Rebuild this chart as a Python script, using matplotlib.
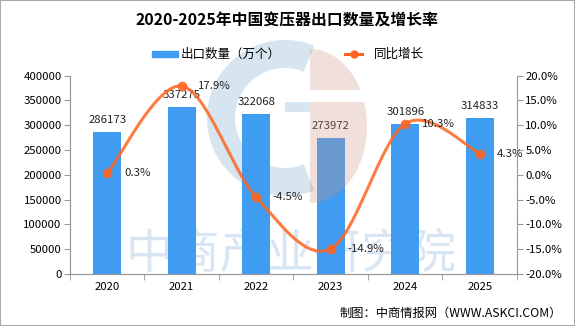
import numpy as np
import matplotlib
matplotlib.use('Agg')
import matplotlib.pyplot as plt
from matplotlib.patches import Polygon, Rectangle
from matplotlib.lines import Line2D

plt.rcParams['font.family'] = ['Noto Sans CJK SC', 'DejaVu Sans']

years = ['2020', '2021', '2022', '2023', '2024', '2025']
export_qty = [286173, 337275, 322068, 273972, 301896, 314833]
growth = [0.3, 17.9, -4.5, -14.9, 10.3, 4.3]

BAR_COLOR = '#3F9CF0'
LINE_COLOR = '#FF6520'
AXIS_GRAY = '#999999'
W, H = 575, 326
FS = 8.2


def px(x, y):
    # pixel position from top-left -> figure fraction
    return x / W, 1 - y / H


def arc_points(cx, cy, rx, ry, t0, t1, rin=None):
    # outline of an (elliptic) arc or a ring, pixel coords in, figure fractions out
    t = np.radians(np.linspace(t0, t1, 120))
    pts = [(cx + rx * np.cos(a), cy - ry * np.sin(a)) for a in t]
    if rin is not None:
        pts += [(cx + rin * np.cos(a), cy - rin * np.sin(a)) for a in t[::-1]]
    return [px(x, y) for x, y in pts]


def smooth_curve(x, y, n=40):
    # excel-like smoothing: bezier segments with catmull-rom control points
    x = np.asarray(x, float)
    y = np.asarray(y, float)
    ex = np.concatenate([[x[0]], x, [x[-1]]])
    ey = np.concatenate([[y[0]], y, [y[-1]]])
    xs, ys = [], []
    t = np.linspace(0, 1, n)[:, None]
    for i in range(1, len(x)):
        p0 = np.array([ex[i], ey[i]])
        p3 = np.array([ex[i + 1], ey[i + 1]])
        c1 = p0 + (np.array([ex[i + 1], ey[i + 1]]) - np.array([ex[i - 1], ey[i - 1]])) / 6
        c2 = p3 - (np.array([ex[i + 2], ey[i + 2]]) - np.array([ex[i], ey[i]])) / 6
        pts = (1 - t) ** 3 * p0 + 3 * (1 - t) ** 2 * t * c1 + 3 * (1 - t) * t ** 2 * c2 + t ** 3 * p3
        xs.extend(pts[:, 0])
        ys.extend(pts[:, 1])
    return np.array(xs), np.array(ys)


fig = plt.figure(figsize=(5.75, 3.26), dpi=100)

# watermark behind the plot
fig.text(0.505, 1 - 255 / H, '中商产业研究院', fontsize=34, color='#D8E6F3',
         ha='center', va='center', zorder=-2)
fig.patches.append(Polygon(arc_points(285, 118, 78, 78, 68, 292, rin=50),
                           closed=True, transform=fig.transFigure,
                           color='#D6E5EF', lw=0, zorder=-2))
fig.patches.append(Rectangle(px(285, 112), 25 / W, 10 / H, transform=fig.transFigure,
                             color='#D6E5EF', lw=0, zorder=-2))

ax = fig.add_axes([0.1217, 0.1595, 0.7774, 0.6083])
ax.patch.set_alpha(0)
ax2 = ax.twinx()

x = np.arange(len(years))
ax.bar(x, export_qty, width=0.37, color=BAR_COLOR, zorder=2)
for xi, v in zip(x, export_qty):
    ax.annotate(str(v), (xi, v), xytext=(0, 5), textcoords='offset points',
                ha='center', va='bottom', fontsize=FS, color='#222222', zorder=5)

ax.set_xlim(-0.5, len(years) - 0.5)
ax.set_ylim(0, 400000)
ax.set_yticks(np.arange(0, 400001, 50000))
ax.set_xticks(x)
ax.set_xticklabels(years)
ax.set_xticks(np.arange(-0.5, len(years), 1), minor=True)
ax.tick_params(axis='x', which='major', length=0, labelsize=FS, pad=6)
ax.tick_params(axis='x', which='minor', length=4, color=AXIS_GRAY)
ax.tick_params(axis='y', length=4, color=AXIS_GRAY, labelsize=FS, pad=2)

ax2.set_ylim(-20, 20)
ax2.set_yticks(np.arange(-20, 20.1, 5))
ax2.set_yticklabels(['%.1f%%' % v for v in np.arange(-20, 20.1, 5)])
ax2.tick_params(axis='y', length=4, color=AXIS_GRAY, labelsize=FS, pad=2)

for a in (ax, ax2):
    a.spines['top'].set_visible(False)
    for s in ('left', 'right', 'bottom'):
        a.spines[s].set_color(AXIS_GRAY)
ax.spines['right'].set_visible(False)

xs, ys = smooth_curve(x, growth)
ax2.plot(xs, ys, color=LINE_COLOR, lw=2.2, alpha=0.85, zorder=3)
ax2.plot(x, growth, 'o', color=LINE_COLOR, ms=6, alpha=0.85, zorder=4)
for xi, g in zip(x, growth):
    ax2.annotate('%.1f%%' % g, (xi, g), xytext=(12, 0), textcoords='offset points',
                 ha='left', va='center', fontsize=FS, color='#222222', zorder=5)

# pink half ellipse of the logo, laid over the bars (with a white gap across it)
pink = arc_points(310, 126, 57, 77, -90, 90)
fig.patches.append(Polygon(pink, closed=True, transform=fig.transFigure,
                           color='#CE9585', alpha=0.3, lw=0, zorder=6))
fig.patches.append(Rectangle(px(310, 102), 58 / W, 12 / H, transform=fig.transFigure,
                             color='white', lw=0, zorder=6.5))

fig.text(0.5, 1 - 20 / H, '2020-2025年中国变压器出口数量及增长率',
         ha='center', va='center', fontsize=11.4, fontweight='bold')

# legend, placed by hand
fig.patches.append(Rectangle(px(152, 57), 26 / W, 6 / H, transform=fig.transFigure,
                             color=BAR_COLOR))
fig.text(*px(181, 54), '出口数量（万个）', ha='left', va='center', fontsize=9)
fig.lines.append(Line2D([345 / W, 362 / W], [1 - 54 / H, 1 - 54 / H],
                        transform=fig.transFigure, color=LINE_COLOR, lw=2.2))
fig.lines.append(Line2D([353.5 / W], [1 - 54 / H], transform=fig.transFigure,
                        color=LINE_COLOR, marker='o', ms=5))
fig.text(*px(374, 54), '同比增长', ha='left', va='center', fontsize=9)

fig.text(*px(562, 313), '制图：中商情报网（WWW.ASKCI.COM）',
         ha='right', va='center', fontsize=8.8)

fig.patches.append(Rectangle((0, 0), 1, 1, transform=fig.transFigure,
                             fill=False, edgecolor='#AAAAAA', lw=1.5))

fig.savefig('out.png', dpi=100)
